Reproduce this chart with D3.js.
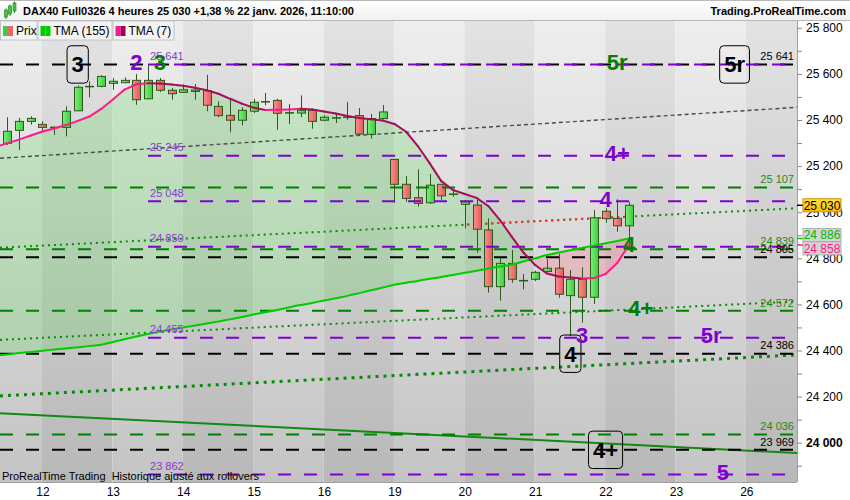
<!DOCTYPE html>
<html><head><meta charset="utf-8">
<script src="https://cdn.jsdelivr.net/npm/d3@7"></script>
<style>
body{margin:0;background:#fff}
svg{display:block}
text{font-family:"Liberation Sans",Arial,sans-serif}
</style>
</head><body>
<svg id="c" width="850" height="500"></svg>
<script>
// ---------------- DATA ----------------
const opens  = [25299,25355,25394,25381,25368,25368,25440,25544,25546,25559,25562,25572,25492,25572,25529,25520,25524,25527,25459,25420,25399,25438,25478,25485,25431,25430,25442,25399,25409,25412,25419,25338,25406,25229,25121,25063,25041,25121,25078,25034,25031,24923,24677,24778,24703,24709,24743,24757,24638,24709,24631,25004,24973,24941];
const highs  = [25412,25409,25416,25394,25372,25459,25550,25568,25594,25582,25585,25599,25643,25582,25539,25553,25556,25596,25481,25488,25455,25492,25517,25492,25469,25507,25449,25420,25430,25478,25452,25426,25465,25231,25157,25186,25166,25122,25096,25053,25053,24973,24804,24836,24732,24746,24796,24819,24749,24761,25009,25017,25056,25045];
const lows   = [25291,25270,25380,25351,25335,25329,25438,25498,25542,25531,25560,25466,25490,25521,25488,25517,25488,25438,25412,25347,25377,25430,25464,25358,25382,25412,25362,25394,25387,25401,25336,25319,25403,25041,25045,25024,25035,25053,25067,24930,24824,24651,24616,24694,24665,24701,24741,24629,24463,24521,24602,24954,24915,24850];
const closes = [25351,25394,25407,25368,25369,25438,25542,25546,25589,25568,25572,25488,25572,25529,25514,25531,25530,25464,25419,25399,25442,25477,25480,25429,25432,25442,25394,25412,25410,25413,25339,25406,25435,25121,25060,25038,25117,25071,25079,25045,24926,24677,24778,24709,24704,24739,24757,24644,24709,24631,24976,24972,24941,25030];
// moving averages, first value = bar before the first visible candle
const tma7   = [25283,25299,25315,25333,25350,25363,25378,25396,25415,25448,25489,25532,25555,25559,25558,25554,25549,25540,25529,25514,25492,25471,25453,25443,25444,25446,25449,25446,25437,25428,25417,25409,25403,25398,25383,25349,25287,25213,25135,25096,25079,25062,25027,24966,24894,24825,24771,24734,24721,24717,24712,24714,24732,24780,24858];
const tma155 = [24378,24383,24389,24394,24399,24404,24409,24414,24419,24425,24437,24449,24461,24472,24482,24491,24500,24508,24517,24526,24535,24545,24556,24566,24576,24587,24597,24606,24617,24627,24637,24649,24661,24673,24685,24694,24702,24711,24719,24728,24737,24746,24755,24764,24773,24786,24800,24814,24825,24835,24845,24855,24865,24875,24886];
const dayLabels   = ["12","13","14","15","16","19","20","21","22","23","26"];
const dayStartBar = [3,9,15,21,27,33,39,45,51,57,63];
const blackLevels  = [25641,24805,24386,23969];
const greenLevels  = [25107,24839,24572,24036];
const purpleLevels = [25641,25245,25048,24850,24455,23862];
// trend lines: [value at left edge, value at right edge]
const trendBlackDash = [25234,25455];
const trendGreenDot  = [24846,25017];
const trendGreenDot2 = [24446,24613];
const trendGreenBig  = [24203,24381];
const trendGreenLine = [24128,23955];
const redSpan = [39.2,53];
const yTickValues = d3.range(23900,25801,100);
const lastPrice = 25030;
// wave annotations: text, bar, level, colour key, boxed
const waves = [
 ["3",6,25641,"k",true],["2",11,25641,"p",false],["3",13,25641,"g",false],
 ["5r",52,25641,"g",false],["5r",62,25641,"k",true],["4+",52,25245,"p",false],
 ["4",51,25048,"p",false],["4",53,24850,"g",false],["4+",54,24572,"g",false],
 ["3",49,24455,"p",false],["5r",60,24455,"p",false],["4",48,24386,"k",true],
 ["4+",51,23969,"k",true],["5",61,23862,"p",false]
];

// ---------------- LAYOUT ----------------
const plotL=0, plotR=797, plotT=20, plotB=482;
const svg = d3.select("#c");
const x = d3.scaleLinear().domain([-0.6223,67.322]).range([plotL,plotR]);
const y = d3.scaleLinear().domain([24000,25800]).range([442.7,27.8]);
const fmt = v => d3.format(",")(v).replace(/,/g," ");
const COL = {k:"#000", p:"#8000cc", g:"#008000"};
const PURPLE_TXT = "#8a3ad0";

const defs = svg.append("defs");
function vgrad(id, c1, c2, y1=plotT, y2=plotB){
  const g = defs.append("linearGradient").attr("id",id).attr("gradientUnits","userSpaceOnUse")
    .attr("x1",0).attr("x2",0).attr("y1",y1).attr("y2",y2);
  g.append("stop").attr("offset",0).attr("stop-color",c1);
  g.append("stop").attr("offset",1).attr("stop-color",c2);
}
vgrad("bgL","#eeeeee","#c4c4c4");
vgrad("bgD","#e3e3e3","#b8b8b8");
function hgrad(id,c1,c2){
  const g = defs.append("linearGradient").attr("id",id).attr("x1",0).attr("x2",1).attr("y1",0).attr("y2",0);
  g.append("stop").attr("offset",0).attr("stop-color",c1);
  g.append("stop").attr("offset",1).attr("stop-color",c2);
}
hgrad("cg","#7cf07c","#3ccc3c");
hgrad("cr","#f89090","#e85858");
vgrad("hdr","#ffffff","#f1f1f1",0,20);
vgrad("yel","#ffe040","#ffbb00",199,212);

defs.append("clipPath").attr("id","plot").append("rect")
  .attr("x",plotL).attr("y",plotT).attr("width",plotR-plotL).attr("height",plotB-plotT);

// background bands
const bounds = [x.domain()[0], ...dayStartBar, x.domain()[1]];
const gBg = svg.append("g");
for(let k=0;k<bounds.length-1;k++){
  const x0 = k===0?plotL:x(dayStartBar[k-1]-0.04), x1 = k===bounds.length-2?plotR:x(dayStartBar[k]-0.04);
  gBg.append("rect").attr("x",x0).attr("y",plotT).attr("width",x1-x0).attr("height",plotB-plotT)
    .attr("fill", k%2===0?"url(#bgL)":"url(#bgD)");
}

const plot = svg.append("g").attr("clip-path","url(#plot)");

// fill between moving averages
const idx = d3.range(-1, closes.length);
const area = d3.area().x(d=>x(d)).y0(d=>y(tma155[d+1])).y1(d=>y(tma7[d+1]));
const above = defs.append("clipPath").attr("id","above");
above.append("path").attr("d", d3.area().x(d=>x(d)).y0(plotT-5).y1(d=>y(tma155[d+1]))(idx));
const below = defs.append("clipPath").attr("id","below");
below.append("path").attr("d", d3.area().x(d=>x(d)).y0(plotB+5).y1(d=>y(tma155[d+1]))(idx));
plot.append("path").attr("d",area(idx)).attr("fill","rgba(40,215,40,0.18)").attr("clip-path","url(#above)");
plot.append("path").attr("d",area(idx)).attr("fill","rgba(255,110,130,0.28)").attr("clip-path","url(#below)");

// trend lines
const xl = x.domain()[0], xr = x.domain()[1];
function trend(vals, color, width, dash, from=xl, to=xr){
  const t = a => vals[0] + (vals[1]-vals[0])*(a-xl)/(xr-xl);
  plot.append("line").attr("x1",x(from)).attr("x2",x(to)).attr("y1",y(t(from))).attr("y2",y(t(to)))
    .attr("stroke",color).attr("stroke-width",width).attr("stroke-dasharray",dash);
}
trend(trendBlackDash,"#4a4a4a",1.4,"4,3");
trend(trendGreenDot,"#0a8a0a",2,"2,4");
trend(trendGreenDot,"#ff2a2a",2,"2,4",redSpan[0],redSpan[1]);
trend(trendGreenDot2,"#0a8a0a",2,"2,4");
trend(trendGreenBig,"#078a07",3,"3,5");
trend(trendGreenLine,"#118a11",2,null);

// candles
const gC = plot.append("g");
closes.forEach((c,i)=>{
  const cx = Math.round(x(i))+0.5, o=opens[i];
  gC.append("line").attr("x1",cx).attr("x2",cx).attr("y1",y(highs[i])).attr("y2",y(lows[i]))
    .attr("stroke","#2b5a1b").attr("stroke-width",1);
  const top = y(Math.max(o,c)), bot = y(Math.min(o,c));
  const h = Math.max(bot-top, 0.5);
  gC.append("rect").attr("x",cx-4).attr("y",top).attr("width",8).attr("height",h)
    .attr("fill", c>=o?"url(#cg)":"url(#cr)").attr("stroke","#2b5a1b").attr("stroke-width",1);
});

// horizontal levels
const purpleStart = x(12);
blackLevels.forEach(v=>plot.append("line").attr("x1",plotL).attr("x2",plotR).attr("y1",y(v)).attr("y2",y(v))
  .attr("stroke","#000").attr("stroke-width",2).attr("stroke-dasharray","13,13"));
greenLevels.forEach(v=>plot.append("line").attr("x1",plotL).attr("x2",plotR).attr("y1",y(v)).attr("y2",y(v))
  .attr("stroke","#008000").attr("stroke-width",2).attr("stroke-dasharray","13,13"));
purpleLevels.forEach(v=>plot.append("line").attr("x1",purpleStart).attr("x2",790).attr("y1",y(v)).attr("y2",y(v))
  .attr("stroke","#8000cc").attr("stroke-width",2).attr("stroke-dasharray","13,13"));

// moving averages
plot.append("path").attr("d", d3.line().x(d=>x(d)).y(d=>y(tma155[d+1])).curve(d3.curveMonotoneX)(idx))
  .attr("fill","none").attr("stroke","#00cc00").attr("stroke-width",2);
for(let k=0;k<idx.length-1;k++){
  const a=idx[k], b=idx[k+1];
  const up = tma7[b+1] >= tma7[a+1];
  plot.append("line").attr("x1",x(a)).attr("x2",x(b)).attr("y1",y(tma7[a+1])).attr("y2",y(tma7[b+1]))
    .attr("stroke", up?"#ff1a8c":"#a3105a").attr("stroke-width",2).attr("stroke-linecap","round");
}

// level labels
const gL = svg.append("g").style("font-size","11px");
purpleLevels.forEach(v=>gL.append("text").attr("x",purpleStart+2).attr("y",y(v)-4.5).attr("fill",PURPLE_TXT).text(fmt(v)));
blackLevels.forEach(v=>gL.append("text").attr("x",794).attr("y",y(v)-4.3).attr("text-anchor","end").attr("fill","#000").text(fmt(v)));
greenLevels.forEach(v=>gL.append("text").attr("x",794).attr("y",y(v)-4.3).attr("text-anchor","end").attr("fill","#1a8a1a").text(fmt(v)));

// wave annotations
const gW = svg.append("g").style("font-size","22px").style("font-weight","bold");
waves.forEach(([t,b,v,c,boxed])=>{
  const cx = x(b), cy = y(v) - (boxed?0:2.5);
  const txt = gW.append("text").attr("x",cx).attr("y",cy+8).attr("text-anchor","middle").attr("fill",COL[c]).text(t);
  if(boxed){
    const w = txt.node().getComputedTextLength()+9;
    gW.insert("rect","text").attr("x",cx-w/2).attr("y",cy-18.7).attr("width",w).attr("height",37.4)
      .attr("rx",4).attr("fill","none").attr("stroke","#000").attr("stroke-width",1);
  }
});

// footer text
svg.append("text").attr("x",2).attr("y",480).style("font-size","11px").style("white-space","pre").attr("fill","#000")
  .text("ProRealTime Trading  Historique ajusté aux rollovers");

// right axis area & bottom axis area
svg.append("rect").attr("x",plotR).attr("y",plotT).attr("width",850-plotR).attr("height",500-plotT).attr("fill","#fff");
svg.append("rect").attr("x",0).attr("y",plotB).attr("width",850).attr("height",500-plotB).attr("fill","#fff");

const yAxis = d3.axisRight(y).tickValues(yTickValues).tickSize(5).tickPadding(4)
  .tickFormat(v=> (v%200===0)? fmt(v):"");
const gy = svg.append("g").attr("transform",`translate(${plotR},0)`).call(yAxis);
gy.select(".domain").attr("stroke","#a0a0a0").attr("d",`M0.5,${plotT}V${plotB}`);
gy.selectAll(".tick line").attr("stroke","#888");
gy.selectAll("text").style("font-size","12px").style("font-family","Liberation Sans, Arial").attr("fill","#000")
  .style("font-weight",d=>d===24000?"bold":"normal");

const xAxis = d3.axisBottom(x).tickValues(dayStartBar).tickSize(0).tickPadding(5)
  .tickFormat((d,i)=>dayLabels[i]);
const gx = svg.append("g").attr("transform",`translate(0,${plotB})`).call(xAxis);
gx.select(".domain").attr("stroke","#a0a0a0").attr("d",`M0,0.5H${plotR}`);
gx.selectAll("text").style("font-size","12px").style("font-family","Liberation Sans, Arial").attr("fill","#000");

// value boxes on right axis
function vbox(cy, ty, label, fill, stroke, tcolor, tick){
  svg.append("line").attr("x1",plotR).attr("x2",plotR+6).attr("y1",ty).attr("y2",ty).attr("stroke",tick).attr("stroke-width",1.5);
  svg.append("rect").attr("x",plotR+6).attr("y",cy-6.5).attr("width",38).attr("height",13)
    .attr("fill",fill).attr("stroke",stroke).attr("stroke-width",1);
  svg.append("text").attr("x",plotR+25).attr("y",cy+4.3).attr("text-anchor","middle")
    .style("font-size","12px").attr("fill",tcolor).text(label);
}
const m155 = tma155[tma155.length-1], m7 = tma7[tma7.length-1];
const mid = (y(m155)+y(m7))/2;
vbox(y(lastPrice), y(lastPrice), fmt(lastPrice), "url(#yel)", "#d09000", "#000", "#000");
vbox(mid-6.7, y(m155), fmt(m155), "#d3d3d3", "#b0b0b0", "#00b800", "#00cc00");
vbox(mid+6.7, y(m7), fmt(m7), "#d3d3d3", "#b0b0b0", "#ff1a8c", "#ff1a8c");

// header
svg.append("rect").attr("x",0).attr("y",0).attr("width",850).attr("height",20).attr("fill","url(#hdr)");
svg.append("line").attr("x1",0).attr("x2",850).attr("y1",0.5).attr("y2",0.5).attr("stroke","#b8b8b8");
svg.append("line").attr("x1",0).attr("x2",850).attr("y1",20.5).attr("y2",20.5).attr("stroke","#b8b8b8");
[[6,10,7],[10,6,8],[14.5,3,8]].forEach(([cx,t,h])=>{
  svg.append("line").attr("x1",cx).attr("x2",cx).attr("y1",t-1.5).attr("y2",t+h+2).attr("stroke","#2b7a1b");
  svg.append("rect").attr("x",cx-1.5).attr("y",t).attr("width",3).attr("height",h).attr("fill","#3cc83c").attr("stroke","#2b7a1b").attr("stroke-width",0.6);
});
svg.append("text").attr("x",23).attr("y",15).style("font-size","11px").style("font-weight","bold")
  .text("DAX40 Full0326 4 heures 25 030 +1,38 % 22 janv. 2026, 11:10:00");
svg.append("text").attr("x",846).attr("y",15).attr("text-anchor","end").style("font-size","11px").style("font-weight","bold")
  .text("Trading.ProRealTime.com");

// legend row
const legend = [
  {t:"Prix", x0:0, x1:37.5, c:["#44cc44","#e86868"]},
  {t:"TMA (155)", x0:37.5, x1:112.5, c:["#00cc00","#00cc00"]},
  {t:"TMA (7)", x0:112.5, x1:174.5, c:["#ff1a8c","#a0005a"]}
];
legend.forEach(l=>{
  svg.append("rect").attr("x",l.x0+0.5).attr("y",21).attr("width",l.x1-l.x0-1).attr("height",19)
    .attr("fill","#f3f3f3").attr("stroke","#c4c4c4");
  svg.append("rect").attr("x",l.x0+3).attr("y",26).attr("width",5).attr("height",10).attr("fill",l.c[0]);
  svg.append("rect").attr("x",l.x0+8).attr("y",26).attr("width",5).attr("height",10).attr("fill",l.c[1]);
  svg.append("text").attr("x",l.x0+16).attr("y",35).style("font-size","12px").attr("fill","#000").text(l.t);
});
</script>
</body></html>
